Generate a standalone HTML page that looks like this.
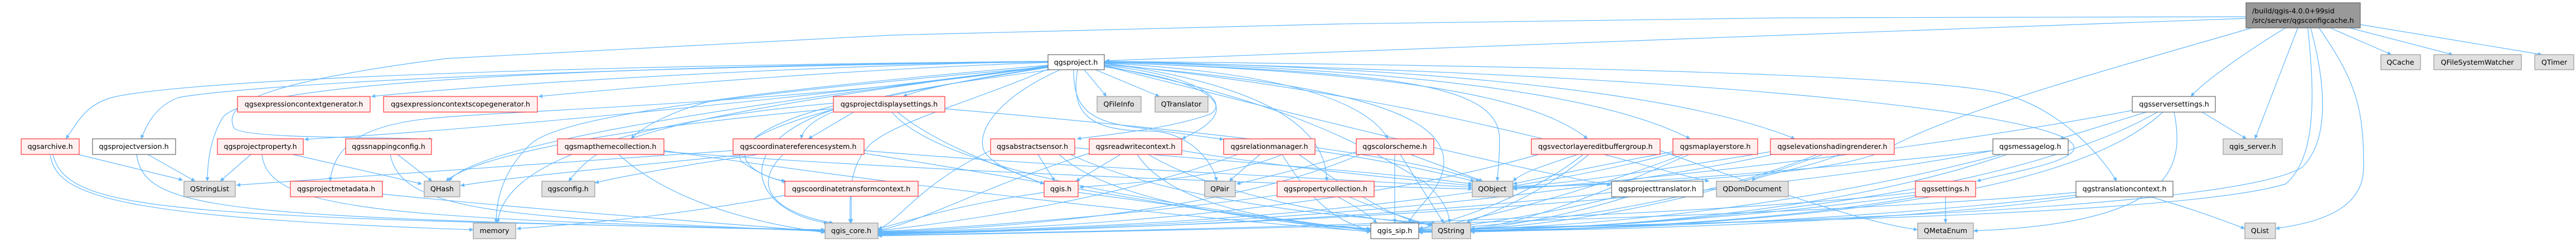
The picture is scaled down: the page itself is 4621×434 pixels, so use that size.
<!DOCTYPE html>
<html><head><meta charset="utf-8">
<style>
html,body{margin:0;padding:0;background:#fff;}
svg{display:block;}
text{font-family:"DejaVu Sans","Liberation Sans",sans-serif;font-size:12.7px;fill:#000;}
.e{fill:none;stroke:#63b8ff;stroke-width:1.2;marker-end:url(#a);}
.r{fill:#fff0f0;stroke:#ff3333;stroke-width:1.2;}
.g{fill:#e0e0e0;stroke:#999999;stroke-width:1.2;}
.w{fill:#ffffff;stroke:#666666;stroke-width:1.2;}
.t{fill:#999999;stroke:#666666;stroke-width:1.2;}
</style></head><body>
<svg width="4621" height="434" viewBox="0 0 4621 434" xmlns="http://www.w3.org/2000/svg">
<defs><marker id="a" viewBox="0 0 10 10" refX="10" refY="5" markerWidth="9" markerHeight="7" markerUnits="userSpaceOnUse" orient="auto"><path d="M0,0 L10,5 L0,10 z" fill="#63b8ff"/></marker></defs>
<g>
<!-- top node edges -->
<path class="e" d="M4029 33 L3200 63 L2400 93 L1983 109"/>
<path class="e" d="M4029 30 L3200 32 L2400 43 L1600 63 L800 105 C450 150 400 190 420 230 C440 250 700 245 776 250"/>
<path class="e" d="M4180 50 L4290 98"/>
<path class="e" d="M4215 50 L4400 98"/>
<path class="e" d="M4234 44 L4560 98"/>
<path class="e" d="M4122 50 L4045 249"/>
<path class="e" d="M4100 50 C4050 80 3960 140 3930 173"/>
<path class="e" d="M4160 50 C4230 150 4240 200 4240 300 C4240 380 4150 400 4082 410"/>
<path class="e" d="M4140 50 C4150 150 4160 280 4100 330 C3900 390 3000 400 2638 410"/>
<path class="e" d="M4040 50 C3800 120 3500 200 3380 270 C3300 310 3000 330 2714 335"/>
<path class="e" d="M4145 50 C4180 180 4170 260 4130 300 C4000 380 3000 405 2545 412"/>
<!-- qgsproject.h edges -->
<path class="e" d="M1880 110 C1400 120 900 150 666 173"/>
<path class="e" d="M1880 112 C1500 125 1100 160 966 173"/>
<path class="e" d="M1880 120 C1750 140 1650 160 1620 173"/>
<path class="e" d="M1945 125 L1985 173"/>
<path class="e" d="M1965 125 L2080 173"/>
<path class="e" d="M1880 110 C800 120 300 150 200 175 C150 190 140 220 118 249"/>
<path class="e" d="M1880 111 C800 125 400 160 320 175 C280 190 265 220 253 249"/>
<path class="e" d="M1880 118 C1500 170 900 230 546 250"/>
<path class="e" d="M1880 117 C1500 150 1350 170 1280 180 C1200 200 1150 230 1132 249"/>
<path class="e" d="M1885 125 C1700 150 1450 180 1437 249"/>
<path class="e" d="M1981 117 C2180 140 2200 190 2170 205 C2100 230 2000 240 1932 249"/>
<path class="e" d="M1981 120 C2200 150 2230 200 2120 249"/>
<path class="e" d="M1926 125 C1925 200 1960 220 2050 230 L2195 250"/>
<path class="e" d="M1902 125 C1800 170 1750 230 1765 270 C1780 300 1850 320 1873 330"/>
<path class="e" d="M1933 125 C1920 200 1950 235 2060 235 C2140 235 2180 300 2182 325"/>
<path class="e" d="M1981 113 C2250 150 2380 220 2380 325"/>
<path class="e" d="M1981 113 C2300 130 2450 180 2490 249"/>
<path class="e" d="M1981 112 C2500 130 2750 170 2848 249"/>
<path class="e" d="M1981 111 C2600 125 2900 180 3032 249"/>
<path class="e" d="M1981 110 C2800 125 3100 200 3220 249"/>
<path class="e" d="M1981 112 C2500 130 2690 150 2690 250 C2690 290 2687 300 2686 325"/>
<path class="e" d="M1981 118 C2300 200 2700 300 2890 332"/>
<path class="e" d="M1981 114 C2600 180 2900 290 3066 325"/>
<path class="e" d="M1981 111 C3000 130 3700 200 3720 262 C3730 290 3600 310 3546 325"/>
<path class="e" d="M1981 110 C3000 120 3500 140 3600 170 C3700 200 3770 280 3797 325"/>
<path class="e" d="M1880 118 C1500 180 900 200 800 210 C650 220 600 260 592 325"/>
<path class="e" d="M1880 110 C1000 120 450 150 400 210 C375 250 372 300 372 325"/>
<path class="e" d="M1880 120 C1300 190 850 260 805 325"/>
<path class="e" d="M1880 119 C1400 180 1200 220 1100 260 C1060 280 1040 300 1020 325"/>
<path class="e" d="M1880 121 C1500 180 1300 240 1330 290 C1360 310 1380 320 1409 325"/>
<path class="e" d="M1880 120 C1300 170 1000 210 950 260 C900 310 890 360 890 400"/>
<path class="e" d="M1880 124 C1750 180 1600 220 1560 260 C1520 300 1525 360 1525 400"/>
<path class="e" d="M1981 116 C2400 150 2590 200 2590 290 C2590 340 2540 370 2527 400"/>
<path class="e" d="M1981 118 C2300 180 2450 260 2560 330 C2590 360 2600 380 2600 400"/>
<!-- to qgis_core -->
<path class="e" d="M95 277 C120 380 300 390 1480 412"/>
<path class="e" d="M245 277 C260 380 400 390 1480 413"/>
<path class="e" d="M470 277 C480 380 700 390 1480 414"/>
<path class="e" d="M700 277 C720 380 900 390 1480 415"/>
<path class="e" d="M686 348 C1000 380 1300 400 1480 416"/>
<path class="e" d="M1110 277 C1200 360 1350 400 1480 417"/>
<path class="e" d="M1405 277 C1350 330 1380 380 1495 400"/>
<path class="e" d="M1527 352 L1527 400"/>
<path class="e" d="M1500 195 C1300 260 1350 380 1485 400"/>
<path class="e" d="M1873 345 C1700 370 1620 400 1575 410"/>
<path class="e" d="M1777 270 C1650 330 1620 390 1575 412"/>
<path class="e" d="M1954 275 C1750 340 1650 400 1575 413"/>
<path class="e" d="M2220 277 C2000 360 1700 400 1575 414"/>
<path class="e" d="M2291 350 C2000 390 1700 410 1575 415"/>
<path class="e" d="M2440 277 C2200 380 1800 410 1575 416"/>
<path class="e" d="M2760 277 C2400 380 1900 410 1575 417"/>
<path class="e" d="M3001 275 C2600 380 2000 410 1575 418"/>
<path class="e" d="M3180 277 C2700 380 2000 412 1575 419"/>
<path class="e" d="M2891 345 C2500 390 2000 412 1575 420"/>
<path class="e" d="M3575 270 C3000 380 2000 410 1575 421"/>
<path class="e" d="M3436 345 C3000 395 2000 415 1575 422"/>
<path class="e" d="M3724 345 C3200 395 2000 415 1575 423"/>
<!-- to qgis_sip -->
<path class="e" d="M1934 345 C2200 380 2350 405 2459 410"/>
<path class="e" d="M2040 277 C2100 370 2300 400 2459 411"/>
<path class="e" d="M1900 277 C2000 370 2300 400 2459 412"/>
<path class="e" d="M2300 277 C2350 360 2400 400 2459 413"/>
<path class="e" d="M2400 353 C2450 380 2460 390 2470 400"/>
<path class="e" d="M2502 277 L2502 400"/>
<path class="e" d="M1600 201 C1700 320 2200 380 2459 414"/>
<path class="e" d="M1190 270 C1600 330 2100 390 2459 415"/>
<path class="e" d="M1550 275 C1900 330 2200 390 2459 416"/>
<path class="e" d="M2840 277 C2750 350 2600 400 2545 410"/>
<path class="e" d="M3020 277 C2800 360 2600 405 2545 411"/>
<path class="e" d="M3260 277 C3000 380 2700 405 2545 412"/>
<path class="e" d="M2900 353 C2750 390 2600 410 2545 413"/>
<path class="e" d="M3590 277 C3200 380 2800 410 2545 414"/>
<path class="e" d="M3436 350 C3100 395 2800 412 2545 415"/>
<path class="e" d="M3724 350 C3300 400 2800 413 2545 416"/>
<path class="e" d="M3870 201 C3700 300 3300 400 2545 417"/>
<!-- to QString -->
<path class="e" d="M2512 277 L2590 400"/>
<path class="e" d="M2850 277 C2750 360 2650 390 2630 400"/>
<path class="e" d="M3030 277 C2800 380 2700 405 2638 410"/>
<path class="e" d="M3270 277 C3000 380 2750 405 2638 411"/>
<path class="e" d="M2920 353 C2800 390 2700 405 2638 412"/>
<path class="e" d="M3600 277 C3300 380 2900 408 2638 413"/>
<path class="e" d="M3440 353 C3200 395 2900 410 2638 414"/>
<path class="e" d="M3730 353 C3400 400 2900 412 2638 415"/>
<path class="e" d="M3880 201 C3750 320 3400 400 2638 416"/>
<path class="e" d="M2420 353 C2480 380 2540 395 2569 405"/>
<path class="e" d="M2330 277 C2420 340 2500 395 2569 404"/>
<path class="e" d="M2060 277 C2200 360 2450 395 2572 402"/>
<path class="e" d="M1920 277 C2100 360 2400 390 2575 400"/>
<!-- to QObject -->
<path class="e" d="M2530 277 L2660 325"/>
<path class="e" d="M1928 265 C2200 290 2500 310 2641 330"/>
<path class="e" d="M2120 270 C2300 300 2500 320 2641 333"/>
<path class="e" d="M2359 270 C2500 290 2580 310 2645 325"/>
<path class="e" d="M1550 270 C1900 300 2400 320 2641 336"/>
<path class="e" d="M1695 195 C2100 230 2500 270 2655 325"/>
<path class="e" d="M1191 272 C1700 310 2300 330 2641 339"/>
<path class="e" d="M2830 277 C2760 300 2730 310 2714 325"/>
<path class="e" d="M3001 272 C2850 300 2760 320 2714 330"/>
<path class="e" d="M3176 272 C2950 310 2800 330 2714 335"/>
<path class="e" d="M3575 270 C3200 310 2900 330 2714 337"/>
<path class="e" d="M3825 198 C3500 260 3000 320 2714 339"/>
<!-- misc -->
<path class="e" d="M3490 352 L3490 400"/>
<path class="e" d="M3900 201 C3920 300 3900 400 3540 414"/>
<path class="e" d="M2978 270 C3200 350 3350 400 3440 412"/>
<path class="e" d="M3850 201 L3695 249"/>
<path class="e" d="M3950 201 L4030 249"/>
<path class="e" d="M140 277 L328 323"/>
<path class="e" d="M265 277 L350 325"/>
<path class="e" d="M450 277 L395 325"/>
<path class="e" d="M1315 270 C900 300 600 320 424 332"/>
<path class="e" d="M525 277 L757 330"/>
<path class="e" d="M713 277 L775 325"/>
<path class="e" d="M1340 277 C1100 300 900 320 826 333"/>
<path class="e" d="M1495 195 C1100 230 850 280 800 325"/>
<path class="e" d="M1360 277 C1200 300 1100 320 1067 328"/>
<path class="e" d="M1495 190 C1300 240 1300 300 1412 327"/>
<path class="e" d="M1862 277 L1892 325"/>
<path class="e" d="M2010 277 L1930 325"/>
<path class="e" d="M2300 277 C2200 320 2000 330 1936 336"/>
<path class="e" d="M1610 201 C1680 260 1800 300 1873 330"/>
<path class="e" d="M1550 190 L1450 249"/>
<path class="e" d="M2260 277 L2205 325"/>
<path class="e" d="M2440 270 C2350 300 2260 320 2218 330"/>
<path class="e" d="M1495 185 C1100 220 900 300 893 400"/>
<path class="e" d="M1409 350 C1200 390 1000 405 927 410"/>
<path class="e" d="M90 277 C100 350 200 390 849 412"/>
<path class="e" d="M3858 353 C3950 380 4000 400 4027 410"/>
<path class="e" d="M3300 277 C3250 300 3150 315 3143 325"/>
</g>
<!-- nodes -->
<g>
<rect class="t" x="4029" y="5" width="205" height="45"/>
<text x="4040" y="24">/build/qgis-4.0.0+99sid</text>
<text x="4040" y="41">/src/server/qgsconfigcache.h</text>

<rect class="w" x="1880" y="98" width="101" height="27"/><text x="1930" y="116" text-anchor="middle">qgsproject.h</text>
<rect class="g" x="4271" y="98" width="71" height="27"/><text x="4306" y="116" text-anchor="middle">QCache</text>
<rect class="g" x="4366" y="98" width="157" height="27"/><text x="4444" y="116" text-anchor="middle">QFileSystemWatcher</text>
<rect class="g" x="4547" y="98" width="70" height="27"/><text x="4582" y="116" text-anchor="middle">QTimer</text>

<rect class="r" x="426" y="173" width="238" height="28"/><text x="545" y="191" text-anchor="middle">qgsexpressioncontextgenerator.h</text>
<rect class="r" x="688" y="173" width="276" height="28"/><text x="826" y="191" text-anchor="middle">qgsexpressioncontextscopegenerator.h</text>
<rect class="r" x="1495" y="173" width="200" height="28"/><text x="1595" y="191" text-anchor="middle">qgsprojectdisplaysettings.h</text>
<rect class="g" x="1968" y="173" width="79" height="28"/><text x="2007" y="191" text-anchor="middle">QFileInfo</text>
<rect class="g" x="2072" y="173" width="95" height="28"/><text x="2119" y="191" text-anchor="middle">QTranslator</text>
<rect class="w" x="3825" y="173" width="149" height="28"/><text x="3900" y="191" text-anchor="middle">qgsserversettings.h</text>

<rect class="r" x="38" y="249" width="104" height="28"/><text x="90" y="267" text-anchor="middle">qgsarchive.h</text>
<rect class="w" x="166" y="249" width="149" height="28"/><text x="240" y="267" text-anchor="middle">qgsprojectversion.h</text>
<rect class="r" x="390" y="249" width="154" height="28"/><text x="467" y="267" text-anchor="middle">qgsprojectproperty.h</text>
<rect class="r" x="620" y="249" width="154" height="28"/><text x="697" y="267" text-anchor="middle">qgssnappingconfig.h</text>
<rect class="r" x="1000" y="249" width="191" height="28"/><text x="1095" y="267" text-anchor="middle">qgsmapthemecollection.h</text>
<rect class="r" x="1315" y="249" width="235" height="28"/><text x="1432" y="267" text-anchor="middle">qgscoordinatereferencesystem.h</text>
<rect class="r" x="1777" y="249" width="151" height="28"/><text x="1852" y="267" text-anchor="middle">qgsabstractsensor.h</text>
<rect class="r" x="1954" y="249" width="166" height="28"/><text x="2037" y="267" text-anchor="middle">qgsreadwritecontext.h</text>
<rect class="r" x="2195" y="249" width="164" height="28"/><text x="2277" y="267" text-anchor="middle">qgsrelationmanager.h</text>
<rect class="r" x="2433" y="249" width="139" height="28"/><text x="2502" y="267" text-anchor="middle">qgscolorscheme.h</text>
<rect class="r" x="2747" y="249" width="231" height="28"/><text x="2862" y="267" text-anchor="middle">qgsvectorlayereditbuffergroup.h</text>
<rect class="r" x="3001" y="249" width="152" height="28"/><text x="3077" y="267" text-anchor="middle">qgsmaplayerstore.h</text>
<rect class="r" x="3176" y="249" width="222" height="28"/><text x="3287" y="267" text-anchor="middle">qgselevationshadingrenderer.h</text>
<rect class="w" x="3575" y="249" width="135" height="28"/><text x="3642" y="267" text-anchor="middle">qgsmessagelog.h</text>
<rect class="g" x="3988" y="249" width="106" height="28"/><text x="4041" y="267" text-anchor="middle">qgis_server.h</text>

<rect class="g" x="330" y="325" width="92" height="28"/><text x="376" y="343" text-anchor="middle">QStringList</text>
<rect class="r" x="521" y="325" width="165" height="28"/><text x="603" y="343" text-anchor="middle">qgsprojectmetadata.h</text>
<rect class="g" x="761" y="325" width="64" height="28"/><text x="793" y="343" text-anchor="middle">QHash</text>
<rect class="g" x="972" y="325" width="95" height="28"/><text x="1019" y="343" text-anchor="middle">qgsconfig.h</text>
<rect class="r" x="1408" y="325" width="239" height="27"/><text x="1527" y="343" text-anchor="middle">qgscoordinatetransformcontext.h</text>
<rect class="r" x="1873" y="325" width="61" height="28"/><text x="1903" y="343" text-anchor="middle">qgis.h</text>
<rect class="g" x="2161" y="325" width="55" height="28"/><text x="2188" y="343" text-anchor="middle">QPair</text>
<rect class="r" x="2291" y="325" width="174" height="28"/><text x="2378" y="343" text-anchor="middle">qgspropertycollection.h</text>
<rect class="g" x="2641" y="325" width="73" height="28"/><text x="2677" y="343" text-anchor="middle">QObject</text>
<rect class="w" x="2891" y="325" width="164" height="28"/><text x="2973" y="343" text-anchor="middle">qgsprojecttranslator.h</text>
<rect class="g" x="3079" y="325" width="129" height="28"/><text x="3143" y="343" text-anchor="middle">QDomDocument</text>
<rect class="r" x="3436" y="325" width="108" height="28"/><text x="3490" y="343" text-anchor="middle">qgssettings.h</text>
<rect class="w" x="3724" y="325" width="174" height="28"/><text x="3811" y="343" text-anchor="middle">qgstranslationcontext.h</text>

<rect class="g" x="849" y="400" width="76" height="28"/><text x="887" y="418" text-anchor="middle">memory</text>
<rect class="g" x="1480" y="400" width="95" height="28"/><text x="1527" y="418" text-anchor="middle">qgis_core.h</text>
<rect class="w" x="2459" y="400" width="86" height="28"/><text x="2502" y="418" text-anchor="middle">qgis_sip.h</text>
<rect class="g" x="2569" y="400" width="69" height="28"/><text x="2603" y="418" text-anchor="middle">QString</text>
<rect class="g" x="3440" y="400" width="100" height="28"/><text x="3490" y="418" text-anchor="middle">QMetaEnum</text>
<rect class="g" x="4027" y="400" width="55" height="28"/><text x="4054" y="418" text-anchor="middle">QList</text>
</g>
</svg>
</body></html>
